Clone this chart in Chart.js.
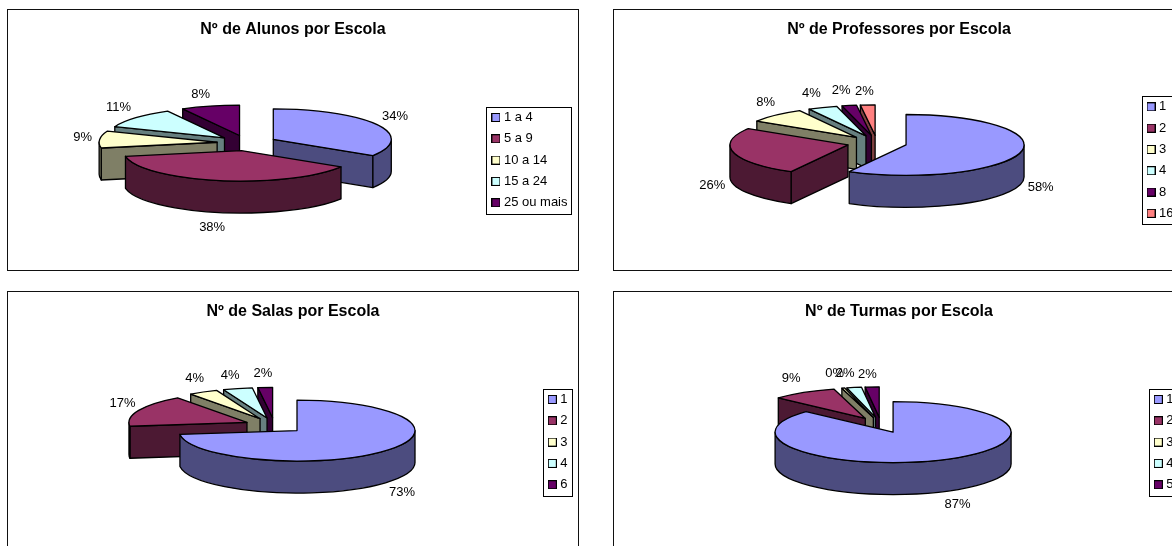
<!DOCTYPE html>
<html><head><meta charset="utf-8">
<script src="https://cdn.jsdelivr.net/npm/chart.js@4"></script>
<style>
html,body{margin:0;padding:0;background:#fff;overflow:hidden;width:1172px;height:546px}
.f{position:absolute;width:570px;height:260px;box-shadow:0 0 0 1px #111;background:#fff}
canvas{display:block}
</style></head><body>
<div class="f" style="left:8px;top:10px"><canvas id="c1" width="570" height="260"></canvas></div>
<div class="f" style="left:614px;top:10px"><canvas id="c2" width="570" height="260"></canvas></div>
<div class="f" style="left:8px;top:292px"><canvas id="c3" width="570" height="260"></canvas></div>
<div class="f" style="left:614px;top:292px"><canvas id="c4" width="570" height="260"></canvas></div>
<script>
// ---- data (percent of schools) ----
const alunosLabels = ['1 a 4','5 a 9','10 a 14','15 a 24','25 ou mais'];
const alunosValues = [34,38,9,11,8];
const professoresLabels = ['1','2','3','4','8','16'];
const professoresValues = [58,26,8,4,2,2];
const salasLabels = ['1','2','3','4','6'];
const salasValues = [73,17,4,4,2];
const turmasLabels = ['1','2','3','4','5'];
const turmasValues = [86.8,8.9,0.4,2,1.9];

// ---- styles ----
const topColors  = ['#9999FF','#993366','#FFFFCC','#CCFFFF','#660066','#FF8080'];
const wallColors = ['#4C4C7F','#4C1933','#7F7F66','#667F7F','#330033','#7F4040'];
const FONT = '"Liberation Sans", Arial, sans-serif';
const SQUASH = 0.258, WALL = 32, RADIUS = 118, EXPLODE = 30, LABEL_R = 170, INK = '#000';

const panels = [
 {id:'c1', title:'Nº de Alunos por Escola',      labels:alunosLabels,      values:alunosValues,      centre:[239,133],     nudge:[[-1,-5],[-3,41],[5,-1],[-1,-7],[-4,-6]]},
 {id:'c2', title:'Nº de Professores por Escola', labels:professoresLabels, values:professoresValues, centre:[263,133],     nudge:[[-1,34],[0,32],[5,-9],[-3,-9],[-4,-9],[-2,-8]]},
 {id:'c3', title:'Nº de Salas por Escola',       labels:salasLabels,       values:salasValues,       centre:[266.5,133.5], nudge:[[0,38],[4,-5],[2,-9],[-2,-8],[-1,-8]]},
 {id:'c4', title:'Nº de Turmas por Escola',      labels:turmasLabels,      values:turmasValues,      centre:[267,133],     nudge:[[8,39],[-1,-9],[-3,-9],[-5,-8],[-3.5,-7]]}
];

function swatch(color){
  const c=document.createElement('canvas');c.width=9;c.height=9;
  const x=c.getContext('2d');x.fillStyle=color;x.fillRect(0,0,9,9);
  x.strokeStyle=INK;x.lineWidth=1;x.strokeRect(.5,.5,8,8);return c;
}

const pie3d = {
  id:'pie3d',
  beforeDatasetsDraw(chart,args,opts){
    const ctx=chart.ctx, arcs=chart.getDatasetMeta(0).data, P=opts.panel;
    const total=P.values.reduce((a,b)=>a+b,0);
    const items=arcs.map((arc,i)=>{
      const p=arc.getProps(['x','y','startAngle','endAngle','outerRadius'],true);
      const mid=(p.startAngle+p.endAngle)/2;
      return {arc,i,p,mid,
        px:P.centre[0]+Math.cos(mid)*EXPLODE,
        py:P.centre[1]+Math.sin(mid)*EXPLODE*SQUASH};
    });
    items.sort((a,b)=>(Math.round(Math.sin(a.mid)*1000)-Math.round(Math.sin(b.mid)*1000))||(b.i-a.i));
    ctx.save();
    ctx.lineWidth=1.3;ctx.lineJoin='round';ctx.strokeStyle=INK;
    for(const it of items){
      const {p,px,py,arc,i}=it, r=p.outerRadius, ry=r*SQUASH;
      const s=p.startAngle,e=p.endAngle;
      const face=(ang)=>{
        const ex=px+Math.cos(ang)*r, ey=py+Math.sin(ang)*ry;
        ctx.beginPath();ctx.moveTo(px,py);ctx.lineTo(ex,ey);ctx.lineTo(ex,ey+WALL);ctx.lineTo(px,py+WALL);ctx.closePath();
        ctx.fillStyle=wallColors[i];ctx.fill();ctx.stroke();
      };
      if(Math.cos(s)<-1e-6) face(s);
      if(Math.cos(e)>1e-6) face(e);
      const a=Math.max(s,0), b=Math.min(e,Math.PI);
      if(b>a){
        ctx.beginPath();
        ctx.ellipse(px,py,r,ry,0,a,b,false);
        ctx.ellipse(px,py+WALL,r,ry,0,b,a,true);
        ctx.closePath();
        ctx.fillStyle=wallColors[i];ctx.fill();ctx.stroke();
      }
      ctx.save();
      ctx.translate(px,py);ctx.scale(1,SQUASH);ctx.translate(-p.x,-p.y);
      arc.draw(ctx);
      ctx.restore();
      ctx.beginPath();
      ctx.moveTo(px,py);
      ctx.ellipse(px,py,r,ry,0,s,e,false);
      ctx.closePath();ctx.stroke();
    }
    // percentage labels
    ctx.fillStyle=INK;ctx.font='13px '+FONT;ctx.textAlign='center';ctx.textBaseline='middle';
    arcs.forEach((arc,i)=>{
      const p=arc.getProps(['startAngle','endAngle'],true), mid=(p.startAngle+p.endAngle)/2;
      const x=P.centre[0]+Math.cos(mid)*LABEL_R+P.nudge[i][0];
      const y=P.centre[1]+Math.sin(mid)*LABEL_R*SQUASH+P.nudge[i][1];
      ctx.fillText(Math.round(P.values[i]/total*100)+'%',x,y);
    });
    ctx.restore();
    return false;
  },
  afterDraw(chart){
    const h=chart.legend.legendHitBoxes, ctx=chart.ctx;
    const L=Math.min(...h.map(b=>b.left))-8, R=Math.max(...h.map(b=>b.left+b.width))+4;
    const gap=(h.length>1?h[1].top-h[0].top:21.3)-h[0].height;
    const T=h[0].top-gap/2, B=h[h.length-1].top+h[0].height+gap/2;
    ctx.save();ctx.strokeStyle=INK;ctx.lineWidth=1;
    ctx.strokeRect(Math.round(L)+.5,Math.round(T)+.5,Math.round(R-L),Math.round(B-T));
    ctx.restore();
  }
};

panels.forEach(P=>{
  new Chart(document.getElementById(P.id),{
    type:'pie',
    data:{labels:P.labels,datasets:[{data:P.values,backgroundColor:topColors.slice(0,P.values.length),borderWidth:0}]},
    plugins:[pie3d],
    options:{
      responsive:false,animation:false,radius:RADIUS,
      layout:{padding:{left:0.5,right:0.5,top:0,bottom:0}},
      plugins:{
        pie3d:{panel:P},
        tooltip:{enabled:false},
        title:{display:true,text:P.title,color:INK,font:{family:FONT,size:16,weight:'bold',lineHeight:1.2},padding:{top:10,bottom:11}},
        legend:{position:'right',fullSize:false,labels:{
          color:INK,font:{family:FONT,size:13},padding:8.3,usePointStyle:true,pointStyleWidth:3,
          generateLabels(){return P.labels.map((t,i)=>({text:t,fontColor:INK,fillStyle:topColors[i],strokeStyle:INK,lineWidth:1,pointStyle:swatch(topColors[i]),index:i,hidden:false}));}
        }}
      }
    }
  });
});
</script>
</body></html>
